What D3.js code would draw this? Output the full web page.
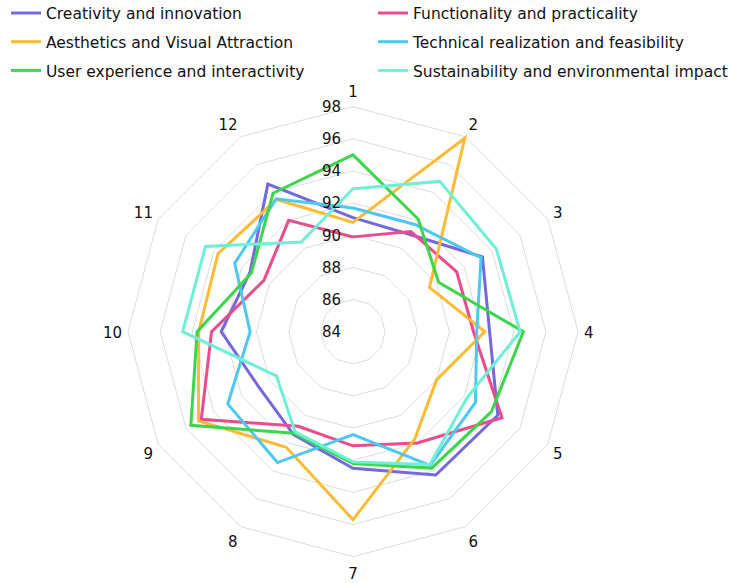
<!DOCTYPE html>
<html><head><meta charset="utf-8">
<script src="https://cdn.jsdelivr.net/npm/d3@7"></script>
<style>body{margin:0;background:#fff}svg{display:block}</style>
</head><body><svg id="c" width="729" height="583"></svg>
<script>
const categories = ["1","2","3","4","5","6","7","8","9","10","11","12"];
const seriesNames = [
  "Creativity and innovation",
  "Functionality and practicality",
  "Aesthetics and Visual Attraction",
  "Technical realization and feasibility",
  "User experience and interactivity",
  "Sustainability and environmental impact"
];
const creativity     = [91.1, 91.0, 93.3, 92.5, 94.4, 94.3, 92.5, 91.4, 90.8, 92.2, 91.4, 94.6];
const functionality  = [89.9, 91.2, 91.45, 91.5, 94.7, 92.0, 91.1, 90.8, 94.9, 92.8, 90.4, 92.0];
const aesthetics     = [90.8, 97.9, 89.5, 92.2, 90.0, 91.7, 95.7, 92.3, 95.1, 93.6, 93.7, 93.5];
const technical      = [91.7, 91.7, 93.2, 91.7, 92.8, 93.6, 90.4, 93.4, 93.0, 90.4, 92.5, 93.55];
const userExperience = [95.0, 92.1, 90.15, 94.6, 93.95, 93.8, 92.2, 91.3, 95.65, 93.7, 91.3, 93.95];
const sustainability = [92.9, 94.8, 94.3, 94.4, 92.2, 93.55, 92.1, 91.2, 89.5, 94.6, 94.6, 90.45];
const seriesColors = ["#7468e0", "#ee4b8c", "#fdba33", "#4cc8f1", "#3bd64b", "#6ef0d8"];
const tickValues = [84, 86, 88, 90, 92, 94, 96, 98];

const allSeries = [creativity, functionality, aesthetics, technical, userExperience, sustainability];
const svg = d3.select("#c");
const cx = 353, cy = 331.7, R = 225;
const font = "'DejaVu Sans', Verdana, sans-serif";

const r = d3.scaleLinear().domain([84, 98]).range([0, R]);
const angle = d3.scalePoint().domain(categories).range([0, 2*Math.PI * (categories.length-1)/categories.length]);

const g = svg.append("g").attr("transform", `translate(${cx},${cy})`);

// grid polygons
const ringLine = d3.lineRadial().angle(d => angle(d.c)).radius(d => r(d.v)).curve(d3.curveLinearClosed);
tickValues.slice(1).forEach(t => {
  g.append("path").attr("d", ringLine(categories.map(c => ({c, v: t}))))
    .attr("fill", "none").attr("stroke", "#dcdcdc").attr("stroke-width", 1);
});

// series
allSeries.forEach((s, i) => {
  g.append("path").attr("d", ringLine(categories.map((c, k) => ({c, v: s[k]}))))
    .attr("fill", "none").attr("stroke", seriesColors[i]).attr("stroke-width", 3)
    .attr("stroke-linejoin", "miter");
});

// tick labels
g.selectAll("text.tick").data(tickValues).join("text").attr("class","tick")
  .attr("x", -12).attr("y", d => -r(d)).attr("dy", "0.35em")
  .attr("text-anchor", "end").attr("font-family", font).attr("font-size", 15).attr("fill", "#111")
  .text(d => d);

// category labels
g.selectAll("text.cat").data(categories).join("text").attr("class","cat")
  .attr("x", d => 231 * Math.sin(angle(d)))
  .attr("y", d => -241 * Math.cos(angle(d)) + 1.5)
  .attr("dy", "0.35em")
  .attr("text-anchor", d => { const s = Math.sin(angle(d)); return Math.abs(s) < 1e-6 ? "middle" : (s > 0 ? "start" : "end"); })
  .attr("font-family", font).attr("font-size", 15).attr("fill", "#111")
  .text(d => d);

// legend
const leg = svg.append("g");
seriesNames.forEach((n, i) => {
  const col = i % 2, row = Math.floor(i / 2);
  const x0 = col === 0 ? 11 : 378, y0 = 13 + row * 28.7;
  leg.append("line").attr("x1", x0).attr("x2", x0 + 30).attr("y1", y0).attr("y2", y0)
    .attr("stroke", seriesColors[i]).attr("stroke-width", 3);
  leg.append("text").attr("x", x0 + 35).attr("y", y0 + 1).attr("dy", "0.35em")
    .attr("font-family", font).attr("font-size", 15.5).attr("fill", "#111").text(n);
});
</script></body></html>
